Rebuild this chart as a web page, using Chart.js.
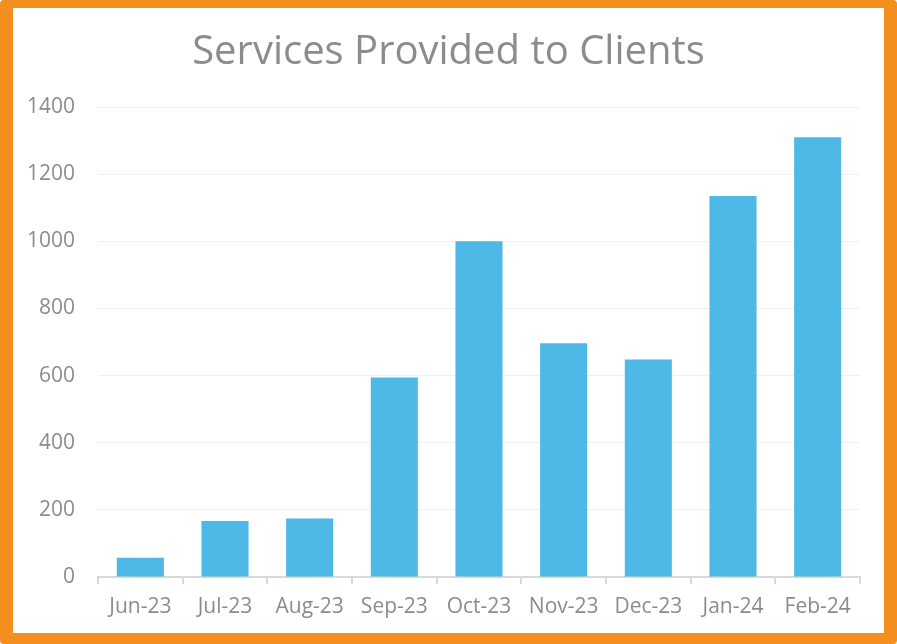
<!DOCTYPE html>
<html>
<head>
<meta charset="utf-8">
<script src="https://cdn.jsdelivr.net/npm/chart.js@4"></script>
<style>
  html, body { margin: 0; padding: 0; background: #fff; }
  .frame {
    position: absolute; left: 0; top: 0;
    width: 871px; height: 625px;
    border-style: solid; border-color: #F28F1E;
    border-width: 8px 13px 11px 13px;
    border-radius: 4px;
    background: #fff;
  }
  .frame canvas { display: block; }
</style>
</head>
<body>
<div class="frame">
  <canvas id="services-chart" width="871" height="625"></canvas>
</div>
<script>
  const months = ["Jun-23", "Jul-23", "Aug-23", "Sep-23", "Oct-23", "Nov-23", "Dec-23", "Jan-24", "Feb-24"];
  const services = [57, 167, 174, 594, 1000, 696, 648, 1135, 1310];
  const yTicks = [0, 200, 400, 600, 800, 1000, 1200, 1400];

  const textColor = "#8C8C8C";
  const font = "'Open Sans', 'DejaVu Sans', sans-serif";

  const ctx = document.getElementById("services-chart").getContext("2d");
  new Chart(ctx, {
    type: "bar",
    data: {
      labels: months,
      datasets: [
        {
          label: "Services",
          data: services,
          backgroundColor: "#4EB9E6",
          borderWidth: 0,
          barPercentage: 0.556,
          categoryPercentage: 1,
        },
      ],
    },
    options: {
      responsive: false,
      animation: false,
      layout: { padding: 0 },
      scales: {
        x: {
          grid: {
            offset: true,
            drawOnChartArea: false,
            drawTicks: true,
            tickLength: 7,
            color: "#D9D9D9",
            lineWidth: 2,
          },
          border: { display: true, color: "#D9D9D9", width: 2 },
          ticks: {
            color: textColor,
            padding: 10,
            maxRotation: 0,
            font: { family: font, size: 21 },
          },
          afterFit: (scale) => { scale.height = 56; },
        },
        y: {
          min: yTicks[0],
          max: yTicks[yTicks.length - 1],
          afterBuildTicks: (scale) => {
            scale.ticks = yTicks.map((v) => ({ value: v }));
          },
          grid: { color: "#F0F0F0", lineWidth: 1, drawTicks: false },
          border: { display: false },
          ticks: {
            color: textColor,
            padding: 23,
            font: { family: font, size: 21 },
            callback: (value) => String(value),
          },
          afterFit: (scale) => { scale.width = 85; },
        },
        // empty right-hand axis, only keeps a margin so the title stays centred
        yRight: {
          position: "right",
          grid: { display: false },
          border: { display: false },
          ticks: { display: false },
          afterFit: (scale) => { scale.width = 24; },
        },
      },
      plugins: {
        legend: { display: false },
        tooltip: { enabled: false },
        title: {
          display: true,
          text: "Services Provided to Clients",
          color: textColor,
          font: { family: font, size: 40, weight: "normal" },
          padding: { top: 21, bottom: 30 },
        },
      },
    },
  });
</script>
</body>
</html>
